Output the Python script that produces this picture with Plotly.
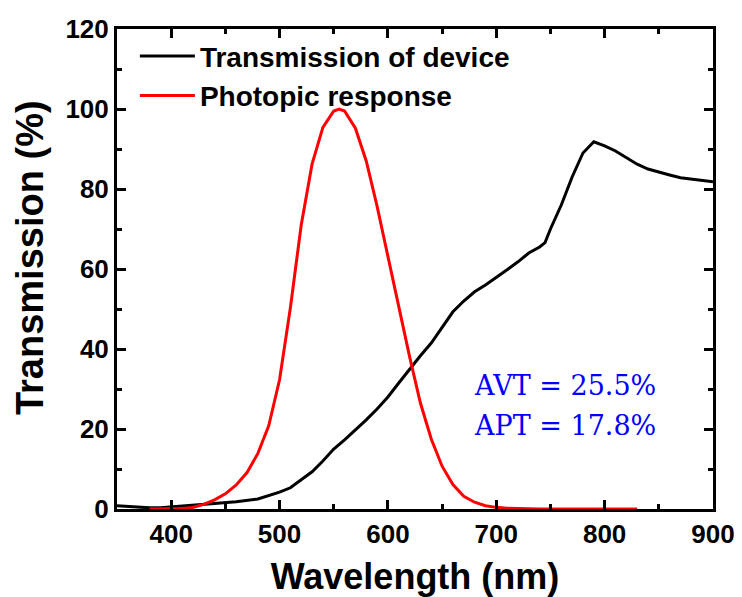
import plotly.graph_objects as go

# Transmission spectrum of the device (%)
dev_wl = [350, 360, 370, 380, 390, 400, 420, 440, 460, 480, 490, 500, 510, 520,
          530, 540, 550, 560, 570, 580, 590, 600, 610, 620, 630, 640, 650, 660,
          670, 680, 690, 700, 710, 720, 730, 740, 745, 750, 760, 770, 780, 790,
          800, 810, 820, 830, 840, 850, 860, 870, 880, 890, 900]
dev_t = [0.8, 0.6, 0.4, 0.3, 0.3, 0.5, 1.0, 1.4, 1.8, 2.5, 3.3, 4.2, 5.3, 7.2,
         9.3, 12.0, 15.0, 17.3, 19.7, 22.3, 25.0, 28.0, 31.5, 35.0, 38.3, 41.5, 45.3, 49.3,
         52.0, 54.3, 56.0, 57.8, 59.8, 61.8, 64.0, 65.5, 66.6, 70.0, 76.0, 83.0, 89.0, 91.8,
         90.8, 89.5, 87.8, 86.2, 85.0, 84.2, 83.5, 82.8, 82.5, 82.2, 81.8]

# Photopic response of the eye (normalised, %)
eye_wl = [380, 390, 400, 410, 420, 430, 440, 450, 460, 470, 480, 490, 500, 510,
          520, 530, 540, 550, 555, 560, 570, 580, 590, 600, 610, 620, 630, 640,
          650, 660, 670, 680, 690, 700, 710, 720, 730, 740, 750, 760, 770, 780,
          790, 800, 810, 820, 830]
eye_v = [0.004, 0.012, 0.04, 0.12, 0.4, 1.16, 2.3, 3.8, 6.0, 9.1, 13.9, 20.8, 32.3, 50.3,
         71.0, 86.2, 95.4, 99.5, 100.0, 99.5, 95.2, 87.0, 75.7, 63.1, 50.3, 38.1, 26.5, 17.5,
         10.7, 6.1, 3.2, 1.7, 0.82, 0.41, 0.21, 0.105, 0.052, 0.025, 0.012, 0.006, 0.003, 0.0015,
         0.0, 0.0, 0.0, 0.0, 0.0]

x_ticks = [400, 500, 600, 700, 800, 900]
y_ticks = [0, 20, 40, 60, 80, 100, 120]
notes = ["AVT = 25.5%", "APT = 17.8%"]

SANS = "Liberation Sans, Arial, sans-serif"

fig = go.Figure()
fig.add_trace(go.Scatter(x=dev_wl, y=dev_t, mode="lines", name="Transmission of device",
                         line=dict(color="black", width=3)))
fig.add_trace(go.Scatter(x=eye_wl, y=eye_v, mode="lines", name="Photopic response",
                         line=dict(color="#ff0000", width=3)))

axis_common = dict(
    showline=True, linecolor="black", linewidth=3, mirror="ticks",
    ticks="inside", ticklen=9, tickwidth=2.5, tickcolor="black",
    showgrid=False, zeroline=False, automargin=False,
    tickfont=dict(family=SANS, size=26, color="black", weight="bold"),
)

fig.update_xaxes(
    range=[350, 900], tickvals=x_ticks, ticktext=[str(v) for v in x_ticks],
    minor=dict(ticks="inside", ticklen=5, tickwidth=2.5, tickcolor="black", dtick=50, tick0=350, showgrid=False),
    title=dict(text="Wavelength (nm)", font=dict(family=SANS, size=36, color="black", weight="bold"), standoff=20),
    **axis_common,
)
fig.update_yaxes(
    range=[0, 120], tickvals=y_ticks, ticktext=[str(v) for v in y_ticks],
    minor=dict(ticks="inside", ticklen=5, tickwidth=2.5, tickcolor="black", dtick=10, tick0=0, showgrid=False),
    **axis_common,
)

# y-axis title, placed as a rotated annotation
fig.add_annotation(x=-0.145, y=0.524, xref="paper", yref="paper",
                   xanchor="center", yanchor="middle", showarrow=False, textangle=-90,
                   text="Transmission (%)",
                   font=dict(family=SANS, size=38, color="black", weight="bold"))

for i, txt in enumerate(notes):
    fig.add_annotation(x=0.595, y=0.258 - i * 0.083, xref="paper", yref="paper",
                       xanchor="left", yanchor="middle", showarrow=False, text=txt,
                       font=dict(family="DejaVu Serif, serif", size=27, color="#0000ff"))

fig.update_layout(
    width=742, height=597,
    margin=dict(l=117, r=29, t=29, b=88),
    paper_bgcolor="white", plot_bgcolor="white",
    showlegend=True,
    legend=dict(x=0.03, y=0.995, xanchor="left", yanchor="top", bgcolor="rgba(0,0,0,0)",
                itemwidth=55, tracegroupgap=0,
                font=dict(family=SANS, size=28, color="black", weight="bold")),
)

fig.write_html("out.html")
